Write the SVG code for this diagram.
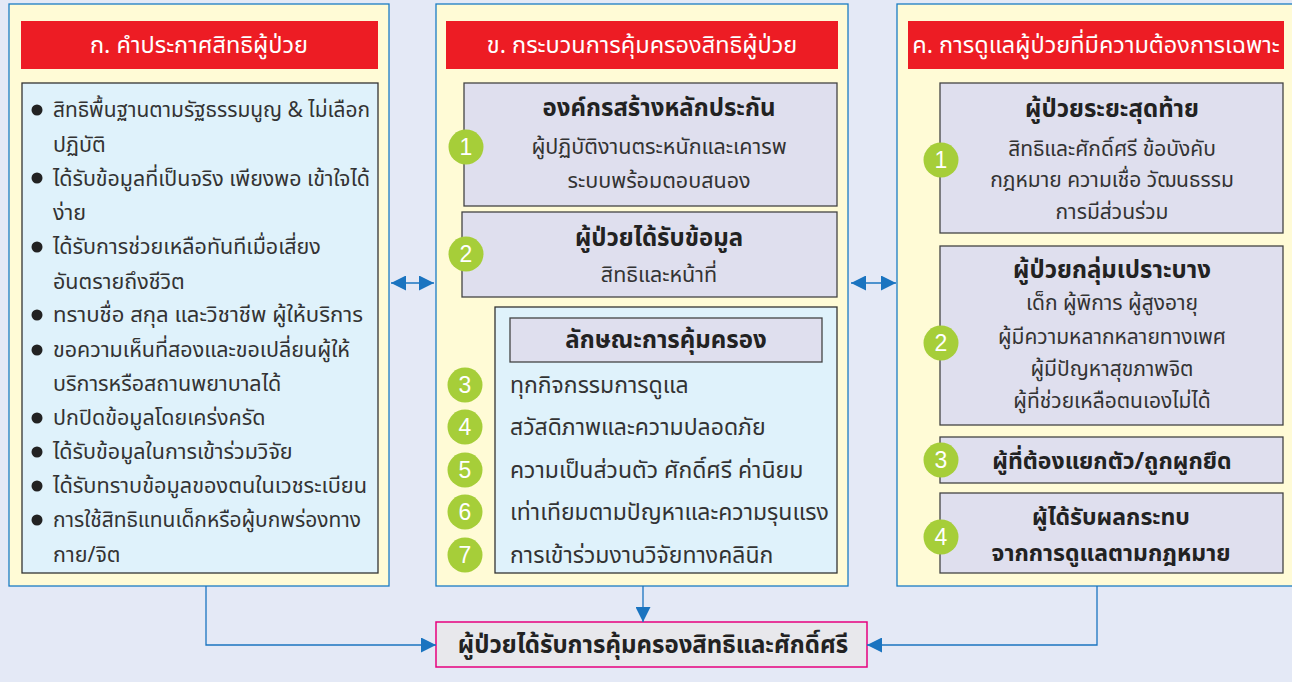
<svg xmlns="http://www.w3.org/2000/svg" width="1292" height="682" viewBox="0 0 1292 682">
<defs>
<marker id="ah" viewBox="0 0 10 10" refX="10" refY="5" markerWidth="15" markerHeight="15" markerUnits="userSpaceOnUse" orient="auto-start-reverse"><path d="M0,0 L10,5 L0,10 z" fill="#1a74c0"/></marker>
<style>
text{font-family:"Noto Sans Thai","Noto Sans","DejaVu Sans",sans-serif;fill:#333;}
.panel{fill:#fffbd6;stroke:#1b7cc4;stroke-width:1.3;}
.hdr{fill:#ed1c24;}
.ht{fill:#fff;font-size:23.5px;text-anchor:middle;}
.lb{fill:#dff2fb;stroke:#333;stroke-width:1.3;}
.pb{fill:#dfdfee;stroke:#444;stroke-width:1.3;}
.li{font-size:21.5px;}
.t{font-size:24px;font-weight:bold;text-anchor:middle;fill:#222;}
.t2{font-size:23px;font-weight:bold;text-anchor:middle;fill:#222;}
.s{font-size:21.5px;text-anchor:middle;}
.s2{font-size:21px;text-anchor:middle;}
.it{font-size:23px;}
.num circle{fill:#a6ce39;}
.num text{fill:#fff;font-family:"Liberation Sans",Arial,sans-serif;font-size:23px;text-anchor:middle;}
.cn{fill:none;stroke:#1a74c0;stroke-width:1.3;}
.bul{fill:#222;}
</style>
</defs>
<rect width="1292" height="682" fill="#e4e9f6"/>

<g id="panel-a">
<rect class="panel" x="9" y="4" width="380" height="582"/>
<rect class="hdr" x="21" y="21" width="357" height="48"/>
<text class="ht" x="199" y="53">ก. คำประกาศสิทธิผู้ป่วย</text>
<rect class="lb" x="22" y="83" width="356" height="490"/>
<g class="bul">
<circle cx="37" cy="110" r="5.5"/><circle cx="37" cy="178" r="5.5"/><circle cx="37" cy="247" r="5.5"/><circle cx="37" cy="315" r="5.5"/><circle cx="37" cy="350" r="5.5"/><circle cx="37" cy="418" r="5.5"/><circle cx="37" cy="452" r="5.5"/><circle cx="37" cy="486" r="5.5"/><circle cx="37" cy="520" r="5.5"/>
</g>
<text class="li" x="53" y="117" textLength="317" lengthAdjust="spacingAndGlyphs">สิทธิพื้นฐานตามรัฐธรรมนูญ &amp; ไม่เลือก</text>
<text class="li" x="53" y="152">ปฏิบัติ</text>
<text class="li" x="53" y="186" textLength="317" lengthAdjust="spacingAndGlyphs">ได้รับข้อมูลที่เป็นจริง  เพียงพอ  เข้าใจได้</text>
<text class="li" x="53" y="220">ง่าย</text>
<text class="li" x="53" y="254">ได้รับการช่วยเหลือทันทีเมื่อเสี่ยง</text>
<text class="li" x="53" y="289">อันตรายถึงชีวิต</text>
<text class="li" x="53" y="322" textLength="310" lengthAdjust="spacingAndGlyphs">ทราบชื่อ  สกุล  และวิชาชีพ  ผู้ให้บริการ</text>
<text class="li" x="53" y="357">ขอความเห็นที่สองและขอเปลี่ยนผู้ให้</text>
<text class="li" x="53" y="391">บริการหรือสถานพยาบาลได้</text>
<text class="li" x="53" y="425">ปกปิดข้อมูลโดยเคร่งครัด</text>
<text class="li" x="53" y="459">ได้รับข้อมูลในการเข้าร่วมวิจัย</text>
<text class="li" x="53" y="493" textLength="314" lengthAdjust="spacingAndGlyphs">ได้รับทราบข้อมูลของตนในเวชระเบียน</text>
<text class="li" x="53" y="527" textLength="308" lengthAdjust="spacingAndGlyphs">การใช้สิทธิแทนเด็กหรือผู้บกพร่องทาง</text>
<text class="li" x="53" y="562">กาย/จิต</text>
</g>

<g id="panel-b">
<rect class="panel" x="436" y="4" width="412" height="582"/>
<rect class="hdr" x="446" y="21" width="392" height="48"/>
<text class="ht" x="642" y="53">ข. กระบวนการคุ้มครองสิทธิผู้ป่วย</text>
</g>
<g id="b1">
<rect class="pb" x="464" y="83" width="373" height="123"/>
<text class="t" x="659" y="116">องค์กรสร้างหลักประกัน</text>
<text class="s" x="659" y="154">ผู้ปฏิบัติงานตระหนักและเคารพ</text>
<text class="s" x="659" y="188">ระบบพร้อมตอบสนอง</text>
<g class="num"><circle cx="466" cy="147" r="17.5"/><text x="466" y="155">1</text></g>
</g>
<g id="b2">
<rect class="pb" x="462" y="212" width="375" height="85"/>
<text class="t" x="659" y="246">ผู้ป่วยได้รับข้อมูล</text>
<text class="s" x="659" y="282">สิทธิและหน้าที่</text>
<g class="num"><circle cx="466" cy="254" r="17.5"/><text x="466" y="262">2</text></g>
</g>
<g id="b3">
<rect class="lb" x="495" y="307" width="342" height="266"/>
<rect class="pb" x="510" y="318" width="312" height="44"/>
<text class="t" x="666" y="348">ลักษณะการคุ้มครอง</text>
<text class="it" x="510" y="393">ทุกกิจกรรมการดูแล</text>
<text class="it" x="510" y="435">สวัสดิภาพและความปลอดภัย</text>
<text class="it" x="510" y="478">ความเป็นส่วนตัว ศักดิ์ศรี ค่านิยม</text>
<text class="it" x="510" y="520">เท่าเทียมตามปัญหาและความรุนแรง</text>
<text class="it" x="510" y="563">การเข้าร่วมงานวิจัยทางคลินิก</text>
<g class="num"><circle cx="465" cy="385" r="17.5"/><text x="465" y="393">3</text></g>
<g class="num"><circle cx="465" cy="427" r="17.5"/><text x="465" y="435">4</text></g>
<g class="num"><circle cx="465" cy="470" r="17.5"/><text x="465" y="478">5</text></g>
<g class="num"><circle cx="465" cy="512" r="17.5"/><text x="465" y="520">6</text></g>
<g class="num"><circle cx="465" cy="555" r="17.5"/><text x="465" y="563">7</text></g>
</g>

<g id="panel-c">
<rect class="panel" x="897" y="4" width="400" height="582"/>
<rect class="hdr" x="908" y="21" width="376" height="48"/>
<text class="ht" x="1096" y="53">ค. การดูแลผู้ป่วยที่มีความต้องการเฉพาะ</text>
</g>
<g id="c1">
<rect class="pb" x="940" y="83" width="343" height="150"/>
<text class="t" x="1112" y="117">ผู้ป่วยระยะสุดท้าย</text>
<text class="s2" x="1112" y="156">สิทธิและศักดิ์ศรี ข้อบังคับ</text>
<text class="s2" x="1112" y="187">กฎหมาย ความเชื่อ วัฒนธรรม</text>
<text class="s2" x="1112" y="219">การมีส่วนร่วม</text>
<g class="num"><circle cx="941" cy="160" r="17.5"/><text x="941" y="168">1</text></g>
</g>
<g id="c2">
<rect class="pb" x="940" y="246" width="343" height="179"/>
<text class="t" x="1112" y="278">ผู้ป่วยกลุ่มเปราะบาง</text>
<text class="s2" x="1112" y="310">เด็ก ผู้พิการ ผู้สูงอายุ</text>
<text class="s2" x="1112" y="344">ผู้มีความหลากหลายทางเพศ</text>
<text class="s2" x="1112" y="376">ผู้มีปัญหาสุขภาพจิต</text>
<text class="s2" x="1112" y="408">ผู้ที่ช่วยเหลือตนเองไม่ได้</text>
<g class="num"><circle cx="941" cy="343" r="17.5"/><text x="941" y="351">2</text></g>
</g>
<g id="c3">
<rect class="pb" x="940" y="437" width="343" height="46"/>
<text class="t2" x="1112" y="469">ผู้ที่ต้องแยกตัว/ถูกผูกยึด</text>
<g class="num"><circle cx="941" cy="460" r="17.5"/><text x="941" y="468">3</text></g>
</g>
<g id="c4">
<rect class="pb" x="940" y="493" width="343" height="80"/>
<text class="t2" x="1111" y="525">ผู้ได้รับผลกระทบ</text>
<text class="t2" x="1111" y="561">จากการดูแลตามกฎหมาย</text>
<g class="num"><circle cx="941" cy="537" r="17.5"/><text x="941" y="545">4</text></g>
</g>

<g id="result">
<rect x="436" y="622" width="431" height="45" fill="#e8e8ec" stroke="#e6007e" stroke-width="1.5"/>
<text class="t" x="653" y="653">ผู้ป่วยได้รับการคุ้มครองสิทธิและศักดิ์ศรี</text>
</g>

<g id="connectors">
<line class="cn" x1="391" y1="283" x2="434" y2="283" marker-start="url(#ah)" marker-end="url(#ah)"/>
<line class="cn" x1="851" y1="283" x2="896" y2="283" marker-start="url(#ah)" marker-end="url(#ah)"/>
<polyline class="cn" points="206,586 206,645 436,645" marker-end="url(#ah)"/>
<line class="cn" x1="643" y1="586" x2="643" y2="622" marker-end="url(#ah)"/>
<polyline class="cn" points="1097,586 1097,645 867,645" marker-end="url(#ah)"/>
</g>
</svg>
